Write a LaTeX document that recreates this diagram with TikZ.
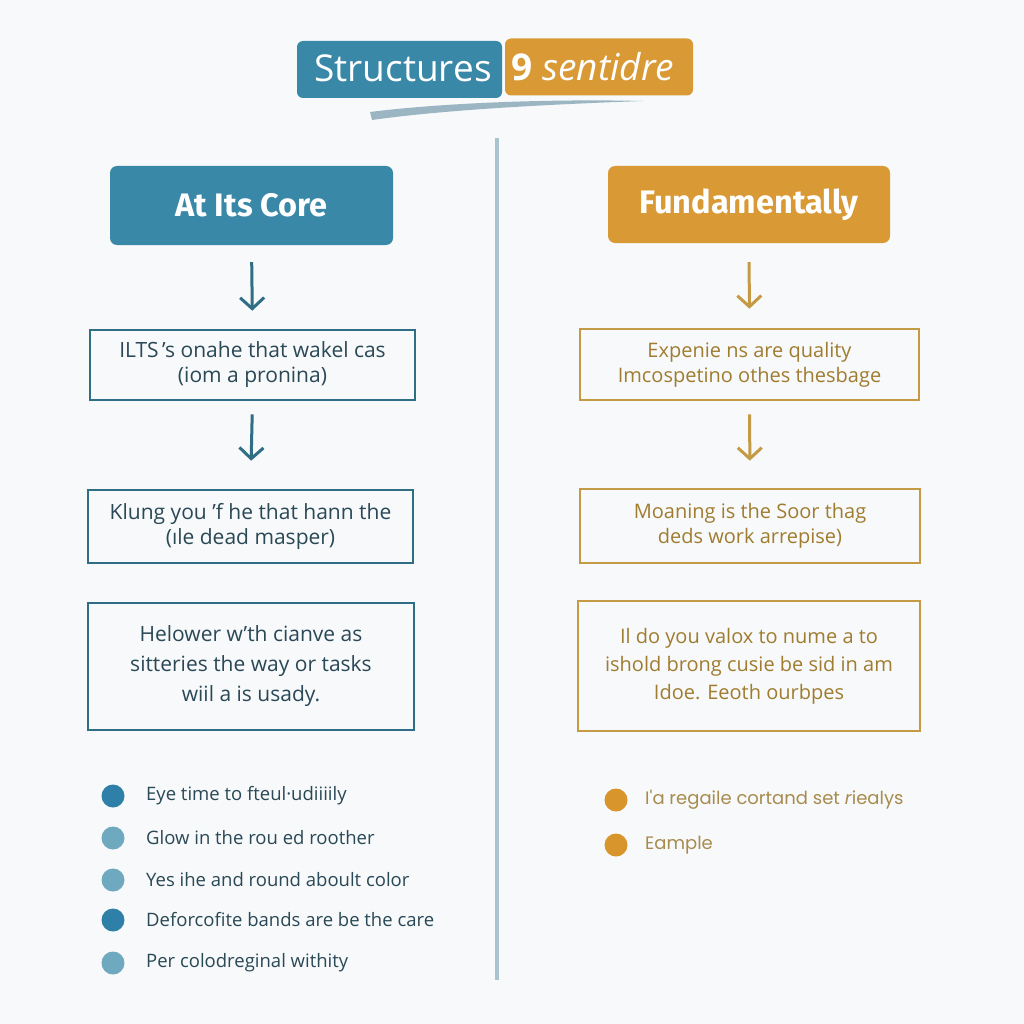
\documentclass[tikz,border=0pt]{standalone}
\usepackage{fontspec}
\setmainfont{Open Sans}
\newfontfamily\headfont{Fira Sans}
\newfontfamily\titlefont{Open Sans}
\newfontfamily\popfont{Poppins}
\usetikzlibrary{arrows.meta}
\definecolor{bg}{HTML}{F7F9FA}
\definecolor{blueH}{HTML}{3A88A8}
\definecolor{orangeH}{HTML}{D99A35}
\definecolor{blueS}{HTML}{2F6E85}
\definecolor{goldS}{HTML}{C49A45}
\definecolor{blueT}{HTML}{2A4856}
\definecolor{goldT}{HTML}{A07C30}
\definecolor{divc}{HTML}{A9C3CF}
\definecolor{swc}{HTML}{9BB5C2}
\definecolor{bulD}{HTML}{2F80A8}
\definecolor{bulL}{HTML}{6FA9BF}
\definecolor{bulO}{HTML}{D8952B}
\definecolor{bulOT}{HTML}{A88B4E}
\tikzset{
  header/.style={rounded corners=7pt, text=white, font=\headfont\bfseries\fontsize{32.5}{38}\selectfont, inner sep=0pt},
  bluebox/.style={draw=blueS, line width=2.6pt, text=blueT, align=center, font=\fontsize{21}{25}\selectfont, inner sep=0pt},
  goldbox/.style={draw=goldS, line width=2.6pt, text=goldT, align=center, font=\fontsize{20}{25}\selectfont, inner sep=0pt},
  flowarrow/.style={line width=3pt, -{Straight Barb[length=11pt,width=24pt,line width=3pt]}},
  bulletdot/.style={circle, inner sep=0pt, minimum size=23pt},
  bullettext/.style={anchor=west, inner sep=0pt, font=\fontsize{18.5}{20}\selectfont, text=blueT},
  obullettext/.style={anchor=west, inner sep=0pt, font=\popfont\fontsize{18}{20}\selectfont, text=bulOT}
}
\begin{document}
\begin{tikzpicture}[x=1pt,y=-1pt]
\useasboundingbox (0,0) rectangle (1024,1024);
\fill[bg] (0,0) rectangle (1024,1024);

% title
\node[rounded corners=6pt, fill=blueH, minimum width=205pt, minimum height=57pt, inner sep=0pt] (tb) at (399.5,69.5) {};
\node[rounded corners=6pt, fill=orangeH, minimum width=188pt, minimum height=57pt, inner sep=0pt] (to) at (599,67) {};
\node[text=white, font=\titlefont\fontsize{37}{40}\selectfont, inner sep=0pt] (tt1) at (403,68) {Structures};
\node[text=white, font=\titlefont\fontsize{37}{40}\selectfont, inner sep=0pt] (tt2) at (593,67) {\textbf{9} \textit{sentidre}};
\fill[swc] (370,112) .. controls (450,102) and (560,99) .. (643,101)
  .. controls (560,104) and (450,109) .. (372,120) -- cycle;

% divider
\coordinate (d1) at (497,138);
\coordinate (d2) at (497,980);
\draw[divc, line width=4pt] (d1) -- (d2);

% headers
\node[header, fill=blueH, minimum width=283pt, minimum height=79pt] (hl) at (251.5,205.5) {At Its Core};
\node[header, fill=orangeH, minimum width=282pt, minimum height=77pt] (hr) at (749,204.5) {Fundamentally};

% left boxes
\node[bluebox, minimum width=325pt, minimum height=70pt] (l1) at (252.5,365) {ILTS\,'s onahe that wakel cas\\(iom a pronina)};
\node[bluebox, minimum width=325pt, minimum height=73pt] (l2) at (250.5,526.5) {Klung you 'f he that hann the\\(ıle dead masper)};
\node[bluebox, minimum width=326pt, minimum height=127pt, font=\fontsize{21}{30}\selectfont] (l3) at (251,666.5) {Helower w'th cianve as\\sitteries the way or tasks\\wiil a is usady.};

% right boxes
\node[goldbox, minimum width=339pt, minimum height=71pt] (r1) at (749.5,364.5) {Expenie ns are quality\\Imcospetino othes thesbage};
\node[goldbox, minimum width=340pt, minimum height=74pt] (r2) at (750,526) {Moaning is the Soor thag\\deds work arrepise)};
\node[goldbox, minimum width=342pt, minimum height=130pt, font=\fontsize{20}{28}\selectfont] (r3) at (749,666) {Il do you valox to nume a to\\ishold brong cusie be sid in am\\Idoe. Eeoth ourbpes};

% arrows
\draw[flowarrow, blueS, shorten <=17pt, shorten >=18pt] (hl.south) -- (l1.north);
\draw[flowarrow, blueS, shorten <=13pt, shorten >=28pt] (l1.south) -- (l2.north);
\draw[flowarrow, goldS, shorten <=19pt, shorten >=19pt] (hr.south) -- (r1.north);
\draw[flowarrow, goldS, shorten <=13pt, shorten >=27pt] (r1.south) -- (r2.north);

% left bullets
\node[bulletdot, fill=bulD] (b1) at (113,796) {};
\node[bulletdot, fill=bulL] (b2) at (113,838) {};
\node[bulletdot, fill=bulL] (b3) at (113,880) {};
\node[bulletdot, fill=bulD] (b4) at (113,920) {};
\node[bulletdot, fill=bulL] (b5) at (113,963) {};
\node[bullettext] (t1) at (146,796) {Eye time to fteul·udiiiily};
\node[bullettext] (t2) at (146,838) {Glow in the rou ed roother};
\node[bullettext] (t3) at (146,880) {Yes ihe and round aboult color};
\node[bullettext] (t4) at (146,920) {Deforcofite bands are be the care};
\node[bullettext] (t5) at (146,963) {Per colodreginal withity};

% right bullets
\node[bulletdot, fill=bulO] (o1) at (616,800) {};
\node[bulletdot, fill=bulO] (o2) at (616,845) {};
\node[obullettext] (u1) at (645,800) {I'a regaile cortand set \textit{r}iealys};
\node[obullettext] (u2) at (645,845) {Eample};
\end{tikzpicture}
\end{document}
